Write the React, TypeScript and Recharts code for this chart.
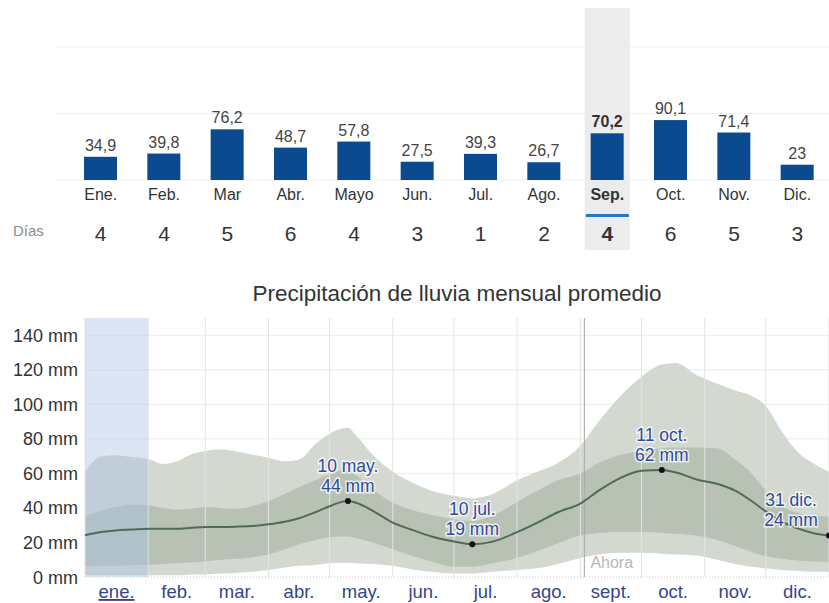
import React from 'react';
import {
  BarChart, Bar, XAxis, YAxis, CartesianGrid, LabelList,
  ComposedChart, Area, Line, ReferenceArea, ReferenceLine,
} from 'recharts';

// ---------- Top chart data ----------
const months = ['Ene.', 'Feb.', 'Mar', 'Abr.', 'Mayo', 'Jun.', 'Jul.', 'Ago.', 'Sep.', 'Oct.', 'Nov.', 'Dic.'];
const rainMm = [34.9, 39.8, 76.2, 48.7, 57.8, 27.5, 39.3, 26.7, 70.2, 90.1, 71.4, 23];
const rainDays = [4, 4, 5, 6, 4, 3, 1, 2, 4, 6, 5, 3];
const highlightMonth = 'Sep.';

// ---------- Bottom chart data ----------
const title = 'Precipitación de lluvia mensual promedio';
const dayOfYear = [0, 8, 15, 23, 31, 38, 45, 52, 59, 67, 75, 82, 90, 98, 105, 113, 120, 126, 129, 133, 141, 151, 160, 170, 181, 190, 200, 212, 222, 232, 243, 252, 262, 273, 283, 290, 300, 310, 319, 327, 334, 342, 350, 357, 365];
const p90 = [61, 70, 70.5, 69.5, 68.5, 65.5, 67, 71, 73, 74, 72.5, 71, 69, 67, 68, 77, 83, 86, 86.5, 82, 71, 61, 55, 50, 47, 45.5, 48, 56, 61, 66, 76, 90, 104, 116, 123, 124, 117, 112, 108, 105, 99, 84, 72, 66, 61];
const p75 = [35, 38.5, 40.5, 42, 41.5, 40, 39, 39.5, 40.5, 40, 39.5, 41, 44, 48, 52, 56, 59.5, 61.5, 61.5, 59, 51, 43, 39, 36, 33.5, 32.5, 35.5, 43.5, 50, 56, 60, 66, 70.5, 73, 74.5, 75, 75, 74.5, 68, 60, 50, 41, 37, 35.5, 35];
const meanMm = [24.2, 26, 27, 27.5, 28, 28, 28, 28.5, 29, 29, 29.2, 29.5, 30.5, 32, 34, 37.5, 41, 43.5, 44, 43, 38.5, 31.5, 27.5, 23.5, 20.5, 19, 20.5, 26, 31.5, 37.5, 42.5, 50, 57, 61.5, 62, 60.5, 56.5, 54, 50, 44, 38, 32, 28, 25.5, 24];
const p25 = [6, 6.5, 6.5, 7, 7, 7.5, 8, 8.5, 9, 10, 10.5, 11.5, 13, 16, 19, 21.5, 23, 23.5, 23.5, 22.5, 20, 16, 12.5, 9, 6, 6, 8, 11, 15, 19.5, 24, 25.5, 26, 26, 25.5, 25, 24, 21.5, 18, 14.5, 12, 10.5, 9.5, 9, 8.8];
const p10 = [1, 1, 1, 1, 1, 1, 1, 1.5, 1.5, 2, 2.5, 3, 4, 5.5, 6.5, 7, 8, 8.2, 8.2, 8, 7.5, 6.5, 4.5, 3, 2, 2, 3, 4, 5, 7.5, 11, 13, 14, 14, 13.5, 13, 12.5, 10, 7.5, 6, 5, 4, 3.5, 3, 3];

const monthLabels = ['ene.', 'feb.', 'mar.', 'abr.', 'may.', 'jun.', 'jul.', 'ago.', 'sept.', 'oct.', 'nov.', 'dic.'];
const monthStarts = [0, 31, 59, 90, 120, 151, 181, 212, 243, 273, 304, 334, 365];
const monthMids = [15.5, 45, 74.5, 105, 135.5, 166, 196.5, 227.5, 258, 288.5, 319, 349.5];
const yTicks = [0, 20, 40, 60, 80, 100, 120, 140];
const currentMonthIndex = 0;
const nowDay = 245;
const nowLabel = 'Ahora';
const annotDays = [129, 190, 283, 365];
const annotDates = ['10 may.', '10 jul.', '11 oct.', '31 dic.'];

const FONT = '"Liberation Sans", Arial, Helvetica, sans-serif';

const barData = months.map((m, i) => ({ month: m, mm: rainMm[i], dias: rainDays[i] }));
const rainData = dayOfYear.map((d, i) => ({
  day: d,
  outer: [p10[i], p90[i]],
  inner: [p25[i], p75[i]],
  mean: meanMm[i],
}));

function BarShape(props: any) {
  const { x, y, width, height, payload, background } = props;
  const hl = payload && payload.month === highlightMonth;
  const top = background ? background.y - 39 : 8;
  return (
    <g>
      {hl && <rect x={x - 6} y={top} width={width + 12} height={242} fill="#ececec" />}
      <rect x={x} y={y} width={width} height={height} fill="#0b4a8f" />
    </g>
  );
}

function MonthTick(props: any) {
  const { x, y, payload } = props;
  const i = months.indexOf(payload.value);
  const hl = payload.value === highlightMonth;
  return (
    <g fontFamily={FONT}>
      {i === 0 && (
        <text x={13} y={y + 56} fontSize={15} fill="#8c8c8c">Días</text>
      )}
      <text x={x} y={y + 20} textAnchor="middle" fontSize={16} fill="#333" fontWeight={hl ? 'bold' : 'normal'}>
        {payload.value}
      </text>
      {hl && <rect x={x - 21.5} y={y + 34} width={43} height={3} fill="#1f7ac3" />}
      <text x={x} y={y + 61} textAnchor="middle" fontSize={21} fill="#333" fontWeight={hl ? 'bold' : 'normal'}>
        {rainDays[i]}
      </text>
    </g>
  );
}

function ValueLabel(props: any) {
  const { x, y, width, value, index } = props;
  const hl = months[index] === highlightMonth;
  return (
    <text x={x + width / 2} y={y - 6} textAnchor="middle" fontSize={16} fontFamily={FONT}
      fill={hl ? '#333' : '#444'} fontWeight={hl ? 'bold' : 'normal'}>
      {String(value).replace('.', ',')}
    </text>
  );
}

function DayTick(props: any) {
  const { x, y, payload, index } = props;
  const i = monthMids.indexOf(payload.value);
  const cur = i === currentMonthIndex;
  return (
    <text x={x} y={y + 21} textAnchor="middle" fontSize={18.5} fontFamily={FONT} fill="#34468a"
      textDecoration={cur ? 'underline' : undefined}>
      {monthLabels[i >= 0 ? i : index]}
    </text>
  );
}

function YTick(props: any) {
  const { x, y, payload } = props;
  return (
    <text x={x + 1} y={y + 6.5} textAnchor="end" fontSize={18} fontFamily={FONT} fill="#333">
      {`${payload.value} mm`}
    </text>
  );
}

function AnnotDot(props: any) {
  const { cx, cy, payload } = props;
  const k = annotDays.indexOf(payload.day);
  if (k < 0 || cx == null || cy == null) return <g key={`d${payload.day}`} />;
  const last = k === annotDays.length - 1;
  const tx = last ? cx - 38 : cx;
  const common = {
    textAnchor: 'middle' as const, fontSize: 17.5, fontFamily: FONT, fill: '#2e4a9a',
    stroke: '#ffffff', strokeWidth: 3, paintOrder: 'stroke' as any, strokeOpacity: 0.75,
  };
  return (
    <g key={`d${payload.day}`}>
      <text x={tx} y={cy - (last ? 30 : 29)} {...common}>{annotDates[k]}</text>
      <text x={tx} y={cy - (last ? 10 : 9)} {...common}>{`${Math.round(payload.mean)} mm`}</text>
      <circle cx={cx} cy={cy} r={3} fill="#111" />
    </g>
  );
}

function NowLabel(props: any) {
  const { viewBox } = props;
  if (!viewBox) return null;
  return (
    <text x={viewBox.x + 6} y={viewBox.y + viewBox.height - 9} fontSize={16} fontFamily={FONT} fill="#b8b8b8">
      {nowLabel}
    </text>
  );
}

export default function App() {
  return (
    <div style={{ position: 'absolute', left: 0, top: 0, width: 829, height: 603, background: '#fff', fontFamily: FONT }}>
      <div style={{ position: 'absolute', left: 0, top: 0 }}>
        <BarChart width={829} height={262} data={barData} margin={{ top: 47, right: 0, left: 55, bottom: 32 }}>
          <CartesianGrid vertical={false} stroke="#efefef" horizontalValues={[0, 100, 200]} />
          <YAxis hide domain={[0, 200]} ticks={[0, 100, 200]} width={0} />
          <Bar dataKey="mm" barSize={33} isAnimationActive={false} shape={<BarShape />}>
            <LabelList dataKey="mm" content={<ValueLabel />} />
          </Bar>
          <XAxis dataKey="month" axisLine={false} tickLine={false} tickSize={0} tickMargin={0}
            height={50} interval={0} padding={{ left: 14, right: 0 }} tick={<MonthTick />} />
        </BarChart>
      </div>

      <div style={{ position: 'absolute', left: 85, top: 281, width: 744, textAlign: 'center', fontSize: 22.5, lineHeight: '26px', color: '#333' }}>
        {title}
      </div>

      <div style={{ position: 'absolute', left: 0, top: 270 }}>
        <ComposedChart width={829} height={333} data={rainData} margin={{ top: 48, right: 0, left: 0, bottom: 0 }}>
          <CartesianGrid vertical={false} stroke="#ececec" horizontalValues={[20, 40, 60, 80, 100, 120, 140]} />
          {monthStarts.map((d) => (
            <ReferenceLine key={`m${d}`} x={d} stroke="#e3e3e3" strokeWidth={1} />
          ))}
          <ReferenceLine y={0} stroke="#c8c8c8" strokeDasharray="1 2" />
          <YAxis type="number" domain={[0, 150]} ticks={yTicks} interval={0} width={85}
            axisLine={false} tickLine={false} tickSize={6} tickMargin={2} tick={<YTick />} />
          <XAxis type="number" dataKey="day" domain={[0, 365]} ticks={monthMids} interval={0}
            axisLine={false} tickLine={false} tickSize={0} tickMargin={0} height={26} tick={<DayTick />} />
          <Area type="monotone" dataKey="outer" stroke="none" fill="#d3d8d0" fillOpacity={1} isAnimationActive={false} />
          <Area type="monotone" dataKey="inner" stroke="none" fill="#b7c2b5" fillOpacity={1} isAnimationActive={false} />
          <ReferenceArea x1={monthStarts[currentMonthIndex]} x2={monthStarts[currentMonthIndex + 1]}
            fill="#a9c2e4" fillOpacity={0.42} stroke="none" />
          <ReferenceLine x={nowDay} stroke="#a9a9a9" strokeWidth={1} label={<NowLabel />} />
          <Line type="monotone" dataKey="mean" stroke="#4f6b55" strokeWidth={2}
            dot={<AnnotDot />} activeDot={false} isAnimationActive={false} />
        </ComposedChart>
      </div>
    </div>
  );
}
